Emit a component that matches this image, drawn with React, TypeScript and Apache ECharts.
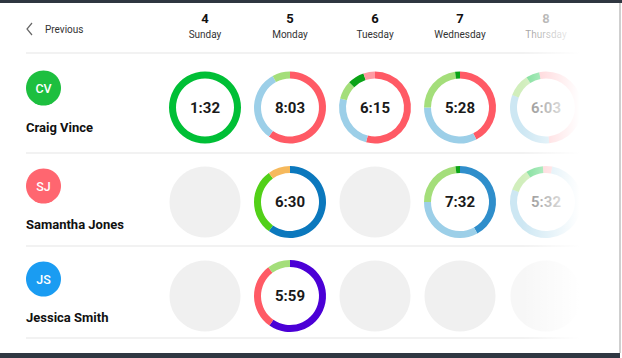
import React, { useEffect, useRef } from 'react';
import * as echarts from 'echarts';

// ---- data ----
const dayNumbers = ['4', '5', '6', '7', '8'];
const dayNames = ['Sunday', 'Monday', 'Tuesday', 'Wednesday', 'Thursday'];
const people = ['Craig Vince', 'Samantha Jones', 'Jessica Smith'];
const initials = ['CV', 'SJ', 'JS'];
const avatarColors = ['#1dbf3f', '#ff6670', '#1a9cf2'];

const segmentColors: Record<string, string> = {
  green: '#00bf36',
  red: '#ff5a65',
  lightBlue: '#9ccfe8',
  lightGreen: '#a4de7a',
  darkGreen: '#0aa316',
  pink: '#ff9aa2',
  blue: '#0b78bd',
  midBlue: '#2f8ecb',
  brightGreen: '#52d018',
  orange: '#f6b95c',
  purple: '#4b00d6',
};

type Seg = [string, number];

const craigTimes = ['1:32', '8:03', '6:15', '5:28', '6:03'];
const craigSegments: Seg[][] = [
  [['green', 100]],
  [['red', 60], ['lightBlue', 32], ['lightGreen', 8]],
  [['red', 54], ['lightBlue', 25], ['lightGreen', 8.3], ['darkGreen', 7.5], ['pink', 5.2]],
  [['red', 42.5], ['lightBlue', 32.5], ['lightGreen', 22.8], ['darkGreen', 2.2]],
  [['pink', 48.6], ['lightBlue', 32], ['lightGreen', 10.3], ['green', 6.1], ['pink', 3]],
];

const samanthaTimes = ['', '6:30', '', '7:32', '5:32'];
const samanthaSegments: Seg[][] = [
  [],
  [['blue', 60], ['brightGreen', 30], ['orange', 10]],
  [],
  [['midBlue', 42], ['lightBlue', 33], ['lightGreen', 23], ['darkGreen', 2]],
  [['pink', 2.8], ['lightBlue', 77.8], ['lightGreen', 10.3], ['green', 7.7], ['pink', 1.4]],
];

const jessicaTimes = ['', '5:59', '', '', ''];
const jessicaSegments: Seg[][] = [
  [],
  [['purple', 59.7], ['red', 30], ['lightGreen', 10.3]],
  [],
  [],
  [],
];

const allTimes = [craigTimes, samanthaTimes, jessicaTimes];
const allSegments = [craigSegments, samanthaSegments, jessicaSegments];

// ---- layout ----
const colX = [205, 290, 375, 460, 546];
const rowY = [107.5, 202, 296];
const avatarY = [88, 186, 279];
const nameY = [127, 224, 317];
const lineY = [53, 153, 246, 338];
const FONT = 'Roboto, "Noto Sans", sans-serif';
const fadedCol = 4;
const fadedOpacity = 0.5;

function buildOption() {
  const series: any[] = [];
  allSegments.forEach((rowSegs, r) => {
    rowSegs.forEach((segs, c) => {
      const op = c === fadedCol ? fadedOpacity : 1;
      if (segs.length === 0) {
        series.push({
          type: 'pie',
          center: [colX[c], rowY[r]],
          radius: [0, 35.5],
          silent: true,
          label: { show: false },
          labelLine: { show: false },
          itemStyle: { borderWidth: 0, opacity: op },
          data: [{ value: 1, name: 'empty', itemStyle: { color: '#f0f0f0' } }],
        });
      } else {
        series.push({
          type: 'pie',
          center: [colX[c], rowY[r]],
          radius: [29, 36],
          startAngle: 90,
          clockwise: true,
          silent: true,
          label: { show: false },
          labelLine: { show: false },
          itemStyle: { borderWidth: 0, opacity: op },
          data: segs.map(([k, v]) => ({ value: v, name: k, itemStyle: { color: segmentColors[k] } })),
        });
      }
    });
  });

  const graphic: any[] = [];
  // top / bottom bars and right border
  graphic.push({ type: 'rect', shape: { x: 0, y: 0, width: 622, height: 3 }, style: { fill: '#2f3640' }, z: 200 });
  graphic.push({ type: 'rect', shape: { x: 0, y: 353, width: 620, height: 5 }, style: { fill: '#2f3742' }, z: 200 });
  graphic.push({ type: 'rect', shape: { x: 619, y: 3, width: 2, height: 350 }, style: { fill: '#cfcfcf' }, z: 200 });

  // previous
  graphic.push({
    type: 'polyline',
    shape: { points: [[32, 23], [27, 29], [32, 35]] },
    style: { stroke: '#666', lineWidth: 1.2, fill: 'none' },
    z: 10,
  });
  graphic.push({
    type: 'text',
    x: 45,
    y: 29,
    style: { text: 'Previous', font: `400 10px ${FONT}`, fill: '#333', textAlign: 'left', textVerticalAlign: 'middle' },
    z: 10,
  });

  // header
  dayNumbers.forEach((d, c) => {
    const op = c === fadedCol ? fadedOpacity : 1;
    graphic.push({
      type: 'text',
      x: colX[c],
      y: 18,
      style: { text: d, font: `700 13px ${FONT}`, fill: '#111', textAlign: 'center', textVerticalAlign: 'middle', opacity: op },
      z: 10,
    });
    graphic.push({
      type: 'text',
      x: colX[c],
      y: 34,
      style: { text: dayNames[c], font: `400 10px ${FONT}`, fill: '#333', textAlign: 'center', textVerticalAlign: 'middle', opacity: op },
      z: 10,
    });
  });

  // separators
  lineY.forEach((y) => {
    graphic.push({ type: 'rect', shape: { x: 26, y: y - 0.5, width: 570, height: 1 }, style: { fill: '#e6e6e6' }, z: 5 });
  });

  // people
  people.forEach((p, r) => {
    graphic.push({ type: 'circle', shape: { cx: 43.5, cy: avatarY[r], r: 17.5 }, style: { fill: avatarColors[r] }, z: 10 });
    graphic.push({
      type: 'text',
      x: 43.5,
      y: avatarY[r] + 0.5,
      style: { text: initials[r], font: `500 12.5px ${FONT}`, fill: '#fff', textAlign: 'center', textVerticalAlign: 'middle' },
      z: 11,
    });
    graphic.push({
      type: 'text',
      x: 26,
      y: nameY[r],
      style: { text: p, font: `700 13px ${FONT}`, fill: '#111', textAlign: 'left', textVerticalAlign: 'middle' },
      z: 10,
    });
  });

  // times
  allTimes.forEach((row, r) => {
    row.forEach((t, c) => {
      if (!t) return;
      const op = c === fadedCol ? fadedOpacity : 1;
      graphic.push({
        type: 'text',
        x: colX[c],
        y: rowY[r],
        style: { text: t, font: `700 15px ${FONT}`, fill: '#1a1a1a', textAlign: 'center', textVerticalAlign: 'middle', opacity: op },
        z: 10,
      });
    });
  });

  // right fade overlay
  graphic.push({
    type: 'rect',
    shape: { x: 522, y: 4, width: 96, height: 348 },
    style: {
      fill: new echarts.graphic.LinearGradient(0, 0, 1, 0, [
        { offset: 0, color: 'rgba(255,255,255,0)' },
        { offset: 0.6, color: 'rgba(255,255,255,1)' },
        { offset: 1, color: 'rgba(255,255,255,1)' },
      ]),
    },
    z: 150,
  });

  return {
    animation: false,
    backgroundColor: '#fff',
    series,
    graphic: { elements: graphic },
  };
}

export default function App() {
  const ref = useRef<HTMLDivElement>(null);
  useEffect(() => {
    const chart = echarts.init(ref.current!, undefined, { renderer: 'svg' });
    chart.setOption(buildOption() as any);
    return () => chart.dispose();
  }, []);
  return (
    <div
      ref={ref}
      style={{ position: 'fixed', left: 0, top: 0, width: 622, height: 358, background: '#fff' }}
    />
  );
}
